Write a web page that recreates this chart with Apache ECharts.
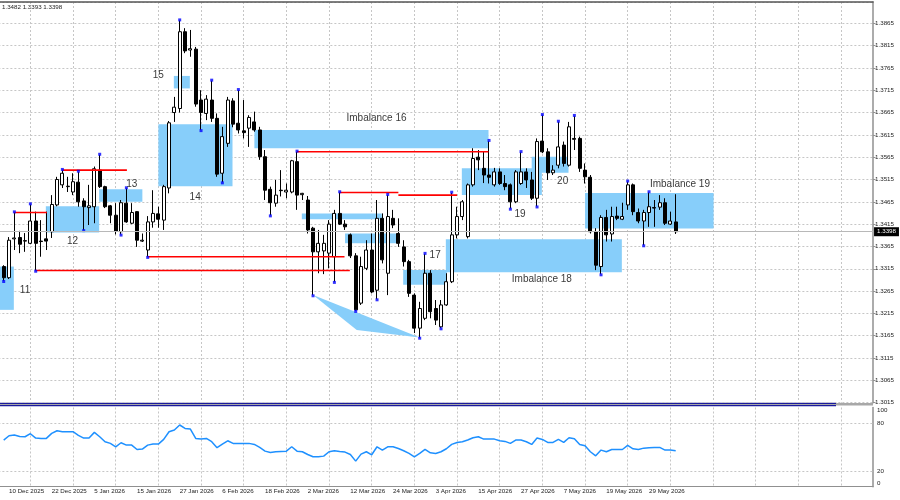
<!DOCTYPE html>
<html>
<head>
<meta charset="utf-8">
<script src="https://cdn.jsdelivr.net/npm/echarts@6/dist/echarts.min.js"></script>
<style>
  html, body { margin: 0; padding: 0; background: #fff; }
  #chart { width: 900px; height: 500px; }
</style>
</head>
<body>
<div id="chart"></div>
<script>
// daily bars, 9 Dec 2025 .. 5 Jun 2026
const open = [
  1.3320, 1.3295, 1.3382, 1.3385, 1.3378, 1.3372, 1.3422, 1.3377, 1.3382, 1.3398,
  1.3458, 1.3503, 1.3499, 1.3487, 1.3509, 1.3467, 1.3452, 1.3454, 1.3536, 1.3499,
  1.3456, 1.3435, 1.3398, 1.3462, 1.3417, 1.3443, 1.3377, 1.3357, 1.3420, 1.3438,
  1.3424, 1.3496, 1.3665, 1.3674, 1.3846, 1.3805, 1.3807, 1.3693, 1.3663, 1.3693,
  1.3652, 1.3529, 1.3596, 1.3691, 1.3641, 1.3624, 1.3630, 1.3644, 1.3626, 1.3566,
  1.3493, 1.3462, 1.3491, 1.3487, 1.3487, 1.3555, 1.3481, 1.3469, 1.3406, 1.3353,
  1.3355, 1.3350, 1.3342, 1.3439, 1.3415, 1.3391, 1.3344, 1.3238, 1.3316, 1.3357,
  1.3267, 1.3428, 1.3305, 1.3428, 1.3394, 1.3364, 1.3331, 1.3256, 1.3182, 1.3204,
  1.3305, 1.3226, 1.3185, 1.3234, 1.3286, 1.3391, 1.3432, 1.3387, 1.3503, 1.3565,
  1.3540, 1.3525, 1.3503, 1.3532, 1.3506, 1.3503, 1.3465, 1.3506, 1.3532, 1.3514,
  1.3473, 1.3601, 1.3577, 1.3530, 1.3547, 1.3592, 1.3547, 1.3607, 1.3607, 1.3536,
  1.3520, 1.3398, 1.3320, 1.3430, 1.3393, 1.3433, 1.3426, 1.3458, 1.3503, 1.3441,
  1.3422, 1.3441, 1.3452, 1.3453, 1.3463, 1.3415, 1.3420
];
const high = [
  1.3323, 1.3386, 1.3441, 1.3400, 1.3395, 1.3459, 1.3443, 1.3424, 1.3443, 1.3480,
  1.3521, 1.3536, 1.3521, 1.3529, 1.3532, 1.3473, 1.3503, 1.3544, 1.3570, 1.3501,
  1.3458, 1.3462, 1.3469, 1.3495, 1.3462, 1.3444, 1.3394, 1.3433, 1.3491, 1.3454,
  1.3503, 1.3646, 1.3700, 1.3871, 1.3854, 1.3850, 1.3812, 1.3715, 1.3704, 1.3736,
  1.3663, 1.3633, 1.3700, 1.3697, 1.3715, 1.3693, 1.3659, 1.3667, 1.3633, 1.3581,
  1.3499, 1.3514, 1.3536, 1.3506, 1.3559, 1.3577, 1.3485, 1.3478, 1.3409, 1.3402,
  1.3391, 1.3424, 1.3447, 1.3486, 1.3424, 1.3394, 1.3350, 1.3342, 1.3379, 1.3394,
  1.3469, 1.3439, 1.3480, 1.3447, 1.3428, 1.3379, 1.3335, 1.3260, 1.3241, 1.3348,
  1.3312, 1.3245, 1.3245, 1.3305, 1.3485, 1.3454, 1.3469, 1.3506, 1.3585, 1.3581,
  1.3577, 1.3601, 1.3541, 1.3540, 1.3525, 1.3506, 1.3536, 1.3576, 1.3540, 1.3532,
  1.3607, 1.3659, 1.3585, 1.3547, 1.3644, 1.3600, 1.3644, 1.3657, 1.3611, 1.3551,
  1.3525, 1.3406, 1.3435, 1.3447, 1.3454, 1.3454, 1.3463, 1.3510, 1.3506, 1.3450,
  1.3447, 1.3486, 1.3469, 1.3480, 1.3473, 1.3443, 1.3482
];
const low = [
  1.3288, 1.3292, 1.3357, 1.3350, 1.3353, 1.3370, 1.3311, 1.3342, 1.3357, 1.3384,
  1.3455, 1.3496, 1.3487, 1.3480, 1.3454, 1.3402, 1.3413, 1.3417, 1.3496, 1.3451,
  1.3417, 1.3392, 1.3392, 1.3418, 1.3415, 1.3364, 1.3375, 1.3342, 1.3407, 1.3407,
  1.3402, 1.3484, 1.3644, 1.3665, 1.3798, 1.3790, 1.3678, 1.3626, 1.3648, 1.3644,
  1.3521, 1.3509, 1.3588, 1.3632, 1.3618, 1.3607, 1.3588, 1.3622, 1.3559, 1.3469,
  1.3435, 1.3454, 1.3477, 1.3473, 1.3484, 1.3447, 1.3469, 1.3394, 1.3256, 1.3305,
  1.3303, 1.3316, 1.3286, 1.3413, 1.3402, 1.3339, 1.3221, 1.3234, 1.3312, 1.3260,
  1.3247, 1.3327, 1.3256, 1.3406, 1.3364, 1.3320, 1.3252, 1.3171, 1.3161, 1.3200,
  1.3204, 1.3189, 1.3182, 1.3232, 1.3283, 1.3383, 1.3424, 1.3383, 1.3499, 1.3536,
  1.3507, 1.3506, 1.3499, 1.3503, 1.3491, 1.3450, 1.3462, 1.3503, 1.3496, 1.3469,
  1.3455, 1.3574, 1.3514, 1.3525, 1.3540, 1.3544, 1.3544, 1.3581, 1.3532, 1.3506,
  1.3394, 1.3312, 1.3303, 1.3376, 1.3376, 1.3424, 1.3424, 1.3447, 1.3435, 1.3417,
  1.3368, 1.3409, 1.3409, 1.3447, 1.3413, 1.3413, 1.3393
];
const close = [
  1.3295, 1.3379, 1.3384, 1.3370, 1.3377, 1.3422, 1.3372, 1.3376, 1.3377, 1.3459,
  1.3515, 1.3529, 1.3500, 1.3510, 1.3465, 1.3454, 1.3456, 1.3539, 1.3499, 1.3454,
  1.3435, 1.3399, 1.3463, 1.3420, 1.3441, 1.3379, 1.3379, 1.3420, 1.3439, 1.3426,
  1.3499, 1.3642, 1.3677, 1.3846, 1.3803, 1.3808, 1.3684, 1.3665, 1.3695, 1.3652,
  1.3527, 1.3611, 1.3693, 1.3639, 1.3626, 1.3620, 1.3654, 1.3626, 1.3566, 1.3491,
  1.3463, 1.3480, 1.3490, 1.3491, 1.3557, 1.3480, 1.3484, 1.3402, 1.3353, 1.3372,
  1.3372, 1.3415, 1.3439, 1.3415, 1.3409, 1.3344, 1.3223, 1.3320, 1.3357, 1.3263,
  1.3428, 1.3335, 1.3432, 1.3413, 1.3372, 1.3331, 1.3260, 1.3182, 1.3226, 1.3305,
  1.3219, 1.3200, 1.3234, 1.3286, 1.3391, 1.3432, 1.3465, 1.3503, 1.3562, 1.3559,
  1.3525, 1.3520, 1.3532, 1.3506, 1.3499, 1.3465, 1.3532, 1.3532, 1.3514, 1.3473,
  1.3600, 1.3577, 1.3530, 1.3536, 1.3588, 1.3551, 1.3633, 1.3605, 1.3540, 1.3521,
  1.3398, 1.3323, 1.3430, 1.3391, 1.3432, 1.3428, 1.3432, 1.3503, 1.3443, 1.3422,
  1.3441, 1.3454, 1.3451, 1.3463, 1.3417, 1.3422, 1.3398
];
// oscillator (0..100), one value per bar
const rsi = [
  58.9, 64.3, 65.2, 63.5, 63.1, 66.9, 61.4, 61.0, 61.0, 67.3,
  70.7, 69.4, 69.4, 69.4, 64.8, 61.4, 61.4, 68.6, 63.1, 56.8,
  54.7, 50.4, 55.5, 52.5, 52.5, 47.0, 47.5, 52.5, 53.8, 53.8,
  59.7, 69.4, 71.5, 77.9, 73.6, 72.8, 61.0, 60.1, 61.0, 56.8,
  49.2, 53.8, 58.0, 54.7, 54.7, 54.7, 54.7, 53.4, 49.6, 44.9,
  43.2, 44.1, 44.5, 44.9, 50.4, 44.9, 44.1, 40.7, 37.8, 37.8,
  38.6, 44.1, 45.4, 44.5, 43.7, 40.7, 32.3, 41.1, 44.1, 40.3,
  50.4, 46.2, 50.4, 50.4, 48.3, 45.4, 42.0, 37.8, 42.0, 47.0,
  42.8, 42.0, 44.1, 47.9, 53.4, 55.9, 56.8, 58.9, 61.8, 63.1,
  60.1, 60.1, 60.1, 58.0, 57.2, 54.7, 58.9, 58.9, 56.8, 53.4,
  61.4, 59.7, 55.9, 55.9, 59.7, 55.9, 61.8, 60.5, 53.4, 51.7,
  44.1, 39.0, 46.2, 44.1, 47.0, 47.0, 47.0, 52.1, 47.9, 47.0,
  48.7, 49.2, 49.6, 49.6, 46.2, 46.2, 45.4
];
// date labels, every 8th bar starting at bar 1
const tickLabels = [
  '10 Dec 2025', '22 Dec 2025', '5 Jan 2026', '15 Jan 2026', '27 Jan 2026', '6 Feb 2026',
  '18 Feb 2026', '2 Mar 2026', '12 Mar 2026', '24 Mar 2026', '3 Apr 2026', '15 Apr 2026',
  '27 Apr 2026', '7 May 2026', '19 May 2026', '29 May 2026'
];
// fractal markers (bar numbers)
const fractalHighs = [2, 5, 11, 14, 18, 23, 33, 39, 44, 55, 63, 72, 79, 84, 91, 97, 101, 104, 107, 117, 121];
const fractalLows = [0, 6, 15, 22, 27, 37, 41, 50, 58, 62, 66, 70, 78, 82, 95, 100, 112, 120];
// zones: [fromBar, toBar, top, bottom]
const zones = [
  [-1, 1.9, 1.3320, 1.3223],
  [7.9, 17.9, 1.3455, 1.3396],
  [17.9, 26.0, 1.3493, 1.3465],
  [29.0, 42.9, 1.3639, 1.3500],
  [31.9, 34.9, 1.3747, 1.3719],
  [47.0, 90.9, 1.3626, 1.3585],
  [55.9, 70.9, 1.3439, 1.3426],
  [64.0, 73.7, 1.3394, 1.3372],
  [74.9, 83.1, 1.3312, 1.3279],
  [82.9, 115.9, 1.3381, 1.3307],
  [85.9, 100.9, 1.3540, 1.3480],
  [99.0, 105.9, 1.3566, 1.3530],
  [109.0, 133.1, 1.3485, 1.3405]
];
// red levels: [fromBar, toBar, price]
const levels = [
  [2, 8.1, 1.3441],
  [11, 23.1, 1.3536],
  [6, 64.9, 1.3311],
  [27, 63.9, 1.3342],
  [55, 90.9, 1.3577],
  [63, 74, 1.3486],
  [74, 85, 1.3480]
];
// wedge between lows: [bar, price] x3
const wedge = [[58, 1.3256], [66.2, 1.3178], [78, 1.3161]];
// notes: [bar, price, text]
const notes = [
  [4.0, 1.3267, '11'],
  [12.9, 1.3376, '12'],
  [24.0, 1.3504, '13'],
  [35.9, 1.3476, '14'],
  [29.0, 1.3749, '15'],
  [69.9, 1.3653, 'Imbalance 16'],
  [80.9, 1.3346, '17'],
  [100.9, 1.3291, 'Imbalance 18'],
  [96.8, 1.3438, '19'],
  [104.8, 1.3510, '20'],
  [126.8, 1.3504, 'Imbalance 19']
];

const BASE = 1.3015;               // lowest price gridline
const toY = p => +((p - BASE) * 10000).toFixed(2);   // pips above BASE
const PAD = 1, FUTURE = 37;
const nBars = open.length;
const nCat = PAD + nBars + FUTURE;
const cats = [];
for (let i = 0; i < nCat; i++) cats.push(String(i));
const labelByCat = {};
tickLabels.forEach((t, k) => { labelByCat[PAD + 1 + k * 8] = t; });

const candles = [['-', '-', '-', '-']];
for (let i = 0; i < nBars; i++) {
  candles.push([toY(open[i]), toY(close[i]), toY(low[i]), toY(high[i])]);
}
const last = nBars - 1;

const FONT = '"Liberation Sans", Arial, sans-serif';
const gridLine = { color: '#c6c6c6', width: 1, type: [2, 2] };
const vSplit = idx => idx >= 6 && (idx - 6) % 8 === 0;

const chart = echarts.init(document.getElementById('chart'));

const option = {
  animation: false,
  backgroundColor: '#fff',
  grid: [
    { left: -1.63, right: 26.96, top: 2, bottom: 97.3, outerBoundsMode: 'none' },
    { left: -1.63, right: 26.96, top: 407.5, bottom: 13.3, outerBoundsMode: 'none' }
  ],
  xAxis: [
    {
      type: 'category', gridIndex: 0, data: cats, boundaryGap: false, position: 'top',
      axisLine: { onZero: false, lineStyle: { color: '#555', width: 1.5 } },
      axisTick: { show: false }, axisLabel: { show: false },
      splitLine: { show: true, interval: vSplit, lineStyle: gridLine }
    },
    {
      type: 'value', gridIndex: 0, min: -PAD, max: nCat - PAD - 1, show: false,
      axisLine: { onZero: false }
    },
    {
      type: 'category', gridIndex: 1, data: cats, boundaryGap: false,
      axisLine: { onZero: false, lineStyle: { color: '#909090', width: 1.2 } },
      axisTick: { show: false },
      axisLabel: {
        interval: idx => labelByCat[idx] !== undefined,
        formatter: (v, idx) => labelByCat[idx] || '',
        align: 'left', margin: 2, fontSize: 6.2, color: '#222', fontFamily: FONT
      },
      splitLine: { show: true, interval: vSplit, lineStyle: gridLine }
    }
  ],
  yAxis: [
    {
      type: 'value', gridIndex: 0, position: 'right', min: 0, max: 897.6, interval: 50,
      axisLine: { show: true, onZero: false, lineStyle: { color: '#909090', width: 1.5 } },
      axisTick: { show: true, length: 2.5, lineStyle: { color: '#909090' } },
      axisLabel: {
        margin: 2, fontSize: 6.2, color: '#222', fontFamily: FONT, showMaxLabel: false,
        formatter: v => (BASE + v / 10000).toFixed(4)
      },
      splitLine: { show: true, lineStyle: gridLine }
    },
    {
      type: 'value', gridIndex: 1, position: 'right', min: 0, max: 100, interval: 20,
      axisLine: { show: true, onZero: false, lineStyle: { color: '#909090', width: 1.5 } },
      axisTick: { show: false },
      axisLabel: {
        margin: 4, fontSize: 6.2, color: '#222', fontFamily: FONT,
        verticalAlignMaxLabel: 'top', verticalAlignMinLabel: 'bottom',
        formatter: v => (v === 0 || v === 20 || v === 80 || v === 100) ? String(v) : ''
      },
      splitLine: { show: false }
    }
  ],
  series: [
    {
      type: 'custom', name: 'zones', xAxisIndex: 1, yAxisIndex: 0, z: 1, silent: true,
      data: zones.map(z => [z[0], z[1], toY(z[2]), toY(z[3])]),
      encode: { x: [0, 1], y: [2, 3] },
      renderItem: (params, api) => {
        const a = api.coord([api.value(0), api.value(2)]);
        const b = api.coord([api.value(1), api.value(3)]);
        return {
          type: 'rect',
          shape: { x: a[0], y: a[1], width: b[0] - a[0], height: b[1] - a[1] },
          style: { fill: '#87cefa' }
        };
      }
    },
    {
      type: 'custom', name: 'wedge', xAxisIndex: 1, yAxisIndex: 0, z: 1, silent: true,
      data: [wedge.flatMap(w => [w[0], toY(w[1])])],
      renderItem: (params, api) => {
        const pts = [0, 2, 4].map(k => api.coord([api.value(k), api.value(k + 1)]));
        return { type: 'polygon', shape: { points: pts }, style: { fill: '#87cefa' } };
      }
    },
    {
      type: 'candlestick', name: 'price', xAxisIndex: 0, yAxisIndex: 0, z: 2,
      data: candles, barWidth: 3.6,
      itemStyle: {
        color: '#ffffff', color0: '#000000',
        borderColor: '#000000', borderColor0: '#000000', borderWidth: 1
      },
      markLine: {
        silent: true, symbol: ['none', 'none'],
        lineStyle: { color: '#b8b8b8', type: 'solid', width: 1 },
        label: {
          position: 'end', distance: 1, formatter: close[last].toFixed(4),
          backgroundColor: '#000', color: '#fff', fontSize: 6.2, fontFamily: FONT,
          padding: [2, 3, 1, 3]
        },
        data: [{ yAxis: toY(close[last]) }]
      }
    },
    {
      type: 'custom', name: 'levels', xAxisIndex: 1, yAxisIndex: 0, z: 3, silent: true,
      data: levels.map(l => [l[0], l[1], toY(l[2])]),
      renderItem: (params, api) => {
        const a = api.coord([api.value(0), api.value(2)]);
        const b = api.coord([api.value(1), api.value(2)]);
        return {
          type: 'line',
          shape: { x1: a[0], y1: a[1], x2: b[0], y2: b[1] },
          style: { stroke: '#ff0000', lineWidth: 1.6 }
        };
      }
    },
    {
      type: 'scatter', name: 'fractals', xAxisIndex: 1, yAxisIndex: 0, z: 4, silent: true,
      symbol: 'rect', symbolSize: 3, itemStyle: { color: '#0000ff' },
      data: fractalHighs.map(i => [i, toY(high[i]) + 1.5])
        .concat(fractalLows.map(i => [i, toY(low[i]) - 1.5]))
    },
    {
      type: 'custom', name: 'notes', xAxisIndex: 1, yAxisIndex: 0, z: 5, silent: true,
      data: notes.map(n => [n[0], toY(n[1])]),
      renderItem: (params, api) => {
        const p = api.coord([api.value(0), api.value(1)]);
        return {
          type: 'text', x: p[0], y: p[1],
          style: {
            text: notes[params.dataIndex][2], fill: '#3a3a3a',
            font: '10px ' + FONT, align: 'center', verticalAlign: 'middle',
            textAlign: 'center', textVerticalAlign: 'middle'
          }
        };
      }
    },
    {
      type: 'line', name: 'osc', xAxisIndex: 2, yAxisIndex: 1,
      data: ['-'].concat(rsi), showSymbol: false, symbol: 'none',
      lineStyle: { color: '#1e90ff', width: 1.5 }, itemStyle: { color: '#1e90ff' },
      markLine: {
        silent: true, symbol: ['none', 'none'], label: { show: false },
        lineStyle: { color: '#c6c6c6', type: [2, 2], width: 1 },
        data: [{ yAxis: 80 }, { yAxis: 20 }]
      }
    }
  ],
  graphic: [
    {
      type: 'text', left: 2, top: 4, silent: true,
      style: {
        text: high[last].toFixed(4) + ' ' + low[last].toFixed(4) + ' ' + close[last].toFixed(4),
        fill: '#222', font: '6.2px ' + FONT
      }
    },
    { type: 'line', silent: true, shape: { x1: 0, y1: 404.3, x2: 873, y2: 404.3 },
      style: { stroke: '#a8a8a8', lineWidth: 2.5 } },
    { type: 'line', silent: true, shape: { x1: 0, y1: 403.4, x2: 836, y2: 403.4 },
      style: { stroke: '#1a1a9c', lineWidth: 1.3 } },
    { type: 'line', silent: true, shape: { x1: 0, y1: 405.6, x2: 836, y2: 405.6 },
      style: { stroke: '#1a1a9c', lineWidth: 1.2 } }
  ]
};

chart.setOption(option);
</script>
</body>
</html>
